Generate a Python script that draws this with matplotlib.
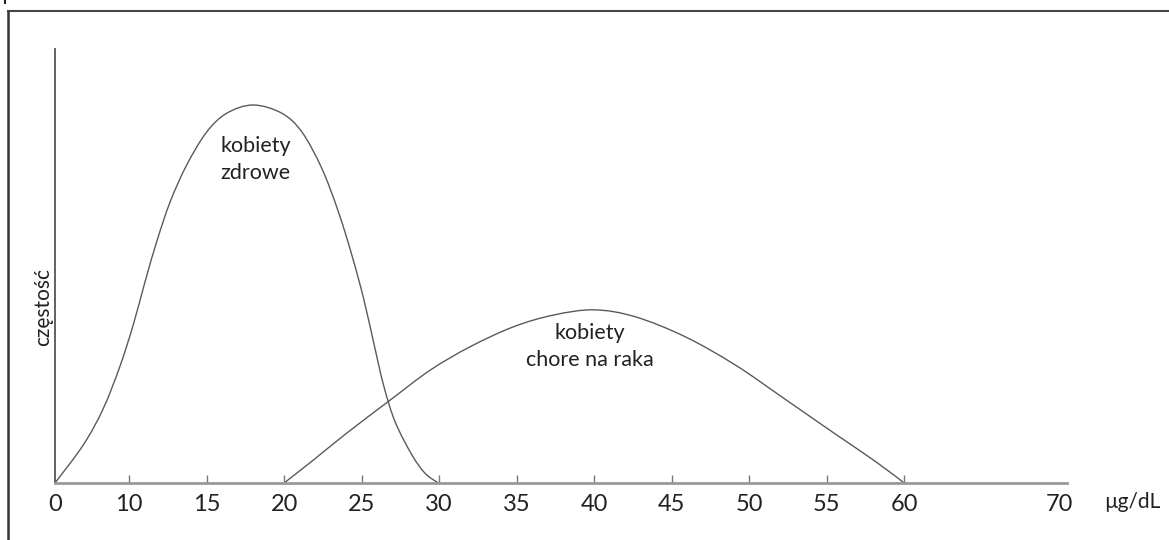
import matplotlib
matplotlib.use("Agg")
import matplotlib.pyplot as plt
from matplotlib.lines import Line2D
from matplotlib.path import Path
from matplotlib.patches import PathPatch

plt.rcParams['font.family'] = ['Lato', 'DejaVu Sans']

# x positions in µg/dL axis units (axis drawn broken: label "0" sits at the axis origin)
healthy_x = [5.22, 7.05, 8.34, 9.42, 10.28, 11.03, 11.78, 12.65, 13.72, 15.01, 16.3, 18.0,
             19.85, 21.14, 22.43, 23.5, 24.37, 25.12, 25.76, 26.41, 27.16, 28.24, 29.1, 29.95]
healthy_y = [0.0, 0.088, 0.172, 0.27, 0.366, 0.464, 0.556, 0.648, 0.733, 0.809, 0.852, 0.871,
             0.852, 0.809, 0.725, 0.625, 0.525, 0.426, 0.326, 0.226, 0.141, 0.065, 0.022, 0.0]

sick_x = [20.0, 21.89, 24.04, 26.84, 29.42, 32.0, 34.8, 37.38, 40.0, 42.65, 45.87,
          49.1, 52.32, 55.55, 58.13, 60.0]
sick_y = [0.0, 0.053, 0.115, 0.191, 0.26, 0.314, 0.36, 0.387, 0.399, 0.383, 0.337,
          0.272, 0.193, 0.113, 0.05, 0.0]

tick_labels = ['0', '10', '15', '20', '25', '30', '35', '40', '45', '50', '55', '60', '70']
tick_values = [5.22, 10, 15, 20, 25, 30, 35, 40, 45, 50, 55, 60, 70]
x_unit = 'µg/dL'
y_label = 'częstość'
label_healthy = 'kobiety\nzdrowe'
label_sick = 'kobiety\nchore na raka'


def smooth_path(xs, ys):
    """Catmull-Rom curve through the given points, as cubic Bezier path."""
    pts = list(zip(xs, ys))
    n = len(pts)
    verts = [pts[0]]
    codes = [Path.MOVETO]
    for i in range(n - 1):
        p0 = pts[i - 1] if i > 0 else pts[i]
        p1 = pts[i]
        p2 = pts[i + 1]
        p3 = pts[i + 2] if i + 2 < n else pts[i + 1]
        c1 = (p1[0] + (p2[0] - p0[0]) / 6, p1[1] + (p2[1] - p0[1]) / 6)
        c2 = (p2[0] - (p3[0] - p1[0]) / 6, p2[1] - (p3[1] - p1[1]) / 6)
        verts += [c1, c2, p2]
        codes += [Path.CURVE4] * 3
    return Path(verts, codes)


W, H = 1169, 540
fig = plt.figure(figsize=(W / 100, H / 100), dpi=100)
fig.patch.set_facecolor('white')

ax = fig.add_axes([55 / W, (H - 483) / H, (1067 - 55) / W, (483 - 49) / H])
ax.set_xlim(5.22, 70.5)
ax.set_ylim(0, 1)

curve_color = '#5a5a5a'
for xs, ys in [(healthy_x, healthy_y), (sick_x, sick_y)]:
    ax.add_patch(PathPatch(smooth_path(xs, ys), facecolor='none', edgecolor=curve_color,
                           lw=1.0, clip_on=False))

for s in ['top', 'right']:
    ax.spines[s].set_visible(False)
ax.spines['left'].set_color('#555555')
ax.spines['left'].set_linewidth(1.3)
ax.spines['bottom'].set_color('#999999')
ax.spines['bottom'].set_linewidth(2.0)

ax.set_yticks([])
ax.set_xticks(tick_values)
ax.set_xticklabels(tick_labels, fontsize=17, color='#222222')
ax.tick_params(axis='x', direction='in', length=6, width=1.0, color='#777777', pad=8)
for t, lab in zip(ax.xaxis.get_major_ticks(), tick_labels):
    if lab in ('0', '70'):
        t.tick1line.set_visible(False)

ax.text(74.7, -0.043, x_unit, fontsize=15, color='#222222', ha='center', va='center',
        transform=ax.transData, clip_on=False)
ax.text(-0.012, 0.405, y_label, fontsize=15, color='#222222', rotation=90,
        ha='center', va='center', transform=ax.transAxes)

ax.text(15.9, 0.746, label_healthy, fontsize=15.5, color='#222222', ha='left', va='center',
        linespacing=1.45)
ax.text(39.75, 0.3145, label_sick, fontsize=15.5, color='#222222', ha='center', va='center',
        linespacing=1.45)

# outer frame (cropped rectangle)
fx, fy = 8 / W, 1 - 11 / H
fig.add_artist(Line2D([fx, fx], [0, fy], transform=fig.transFigure, color='#333333', lw=1.8))
fig.add_artist(Line2D([fx, 1], [fy, fy], transform=fig.transFigure, color='#444444', lw=1.5))
fig.add_artist(Line2D([4.5 / W, 4.5 / W], [1, 1 - 3 / H], transform=fig.transFigure,
                      color='#222222', lw=1.5))

fig.savefig('out.png', dpi=100, facecolor='white')
